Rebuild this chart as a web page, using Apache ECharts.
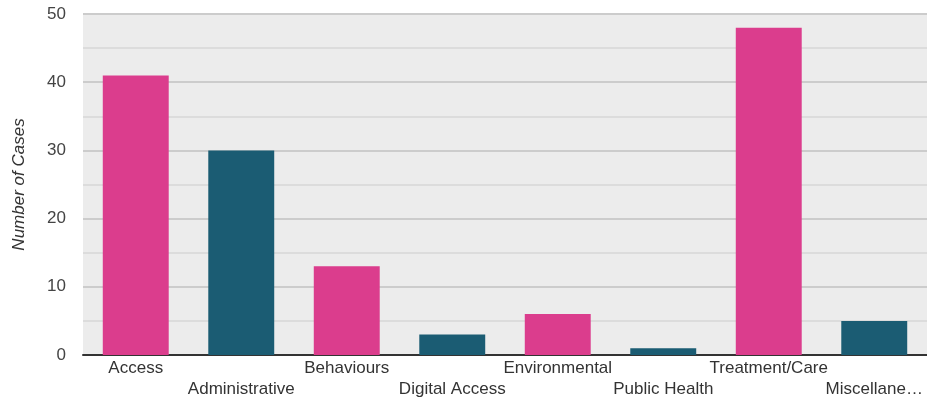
<!DOCTYPE html>
<html>
<head>
<meta charset="utf-8">
<script src="https://cdn.jsdelivr.net/npm/echarts@6/dist/echarts.min.js"></script>
<style>
  html, body { margin: 0; padding: 0; background: #fff; }
  #chart { width: 927px; height: 407px; }
</style>
</head>
<body>
<div id="chart"></div>
<script>
// data
var categories = ['Access', 'Administrative', 'Behaviours', 'Digital Access',
                  'Environmental', 'Public Health', 'Treatment/Care', 'Miscellane…'];
var cases = [41, 30, 13, 3, 6, 1, 48, 5];
var barColors = ['#db3d8d', '#1b5c73'];

var chart = echarts.init(document.getElementById('chart'));
chart.setOption({
    animation: false,
    textStyle: { fontFamily: 'Liberation Sans, Arial, sans-serif' },
    grid: {
        left: 83, right: 0, top: 14, bottom: 52,
        show: true, backgroundColor: '#ececec', borderWidth: 0
    },
    xAxis: {
        type: 'category',
        data: categories,
        axisLine: { lineStyle: { color: '#333', width: 2 } },
        axisTick: { show: false },
        axisLabel: {
            interval: 0,
            margin: 3,
            color: '#333',
            fontSize: 17,
            lineHeight: 21,
            formatter: function (v, i) { return i % 2 ? '\n' + v : v; }
        }
    },
    yAxis: {
        type: 'value',
        min: 0, max: 50, interval: 10,
        name: 'Number of Cases',
        nameLocation: 'middle',
        nameGap: 55,
        nameTextStyle: { fontStyle: 'italic', fontSize: 17, color: '#333' },
        axisLabel: { color: '#444', fontSize: 17, margin: 17 },
        axisLine: { show: false },
        axisTick: { show: false },
        splitLine: { lineStyle: { color: '#cccccc', width: 2 } },
        minorTick: { show: false, splitNumber: 2 },
        minorSplitLine: { show: true, lineStyle: { color: '#dcdcdc', width: 2 } }
    },
    series: [{
        type: 'bar',
        barWidth: '62.5%',
        data: cases.map(function (v, i) {
            return { value: v, itemStyle: { color: barColors[i % 2] } };
        })
    }]
});
</script>
</body>
</html>
